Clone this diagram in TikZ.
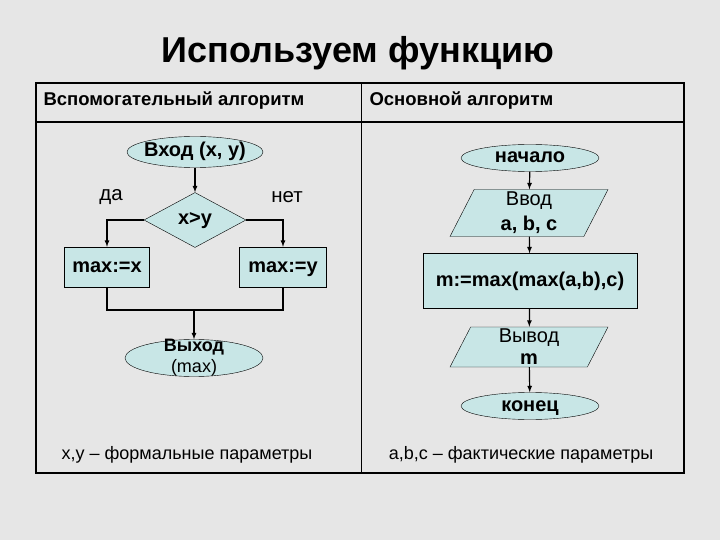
\documentclass[tikz,border=0pt]{standalone}
\usepackage{fontspec}
\setmainfont{Liberation Sans}
\usetikzlibrary{positioning,calc,arrows,shapes.geometric}

\definecolor{boxfill}{RGB}{200,230,230}
\definecolor{slidebg}{RGB}{230,230,230}
\newcommand{\blkfont}{\fontsize{20}{24}\selectfont\bfseries}

\tikzset{
	blk/.style={draw=black, fill=boxfill, font=\blkfont, inner sep=0pt},
	oneline/.style={text height=14pt, text depth=4pt},
	term/.style={blk, oneline, ellipse, inner xsep=-3pt},
	proc/.style={blk, oneline, rectangle},
	decision/.style={blk, oneline, diamond},
	iobox/.style={blk, trapezium, trapezium left angle=60, trapezium right angle=120, trapezium stretches body=true, align=center},
	flow/.style={line width=1.2pt, ->, >=latex},
	lnk/.style={line width=1.2pt},
	plain/.style={font=\fontsize{20.5}{24}\selectfont},
	note/.style={font=\fontsize{18}{22}\selectfont},
	hdr/.style={anchor=west, font=\fontsize{18.5}{22}\selectfont\bfseries}
}

\begin{document}
\begin{tikzpicture}[x=1pt,y=-1pt]
		\fill[slidebg] (0,0) rectangle (720,540);
		
		% title and table
		\node[font=\fontsize{36}{42}\selectfont\bfseries] (title) at (358,53) {Используем функцию};
		\draw[line width=1.8pt] (36,83) rectangle (684,473);
		\draw[line width=1.2pt] (36,122) -- (684,122);
		\draw[line width=0.8pt] (361,83) -- (361,473);
		\node[hdr] (hdrleft) at (40,101) {Вспомогательный алгоритм};
		\node[hdr] (hdrright) at (366,101) {Основной алгоритм};
		
		% auxiliary algorithm
		\node[term, minimum width=136, minimum height=31] (vhod) at (195,152) {Вход (x, y)};
		\node[decision, minimum width=102, minimum height=55] (cmp) at (195,220) {x>y};
		\node[proc, minimum width=85, minimum height=40] (maxx) at (107,267) {max:=x};
		\node[proc, minimum width=87, minimum height=40] (maxy) at (283,267) {max:=y};
		\coordinate (join) at (194,310);
		\node[term, minimum width=138, minimum height=37, label={[align=center, font=\fontsize{18}{21}\selectfont]center:{\textbf{Выход}\\(max)}}] (vyhod) at (194,358) {};
		\node[plain] (yes) at (111,197) {да};
		\node[plain] (no) at (287,197) {нет};
		
		\draw[flow] (vhod) -- (cmp);
		\draw[flow] (cmp.west) -| (maxx.north);
		\draw[flow] (cmp.east) -| (maxy.north);
		\draw[lnk] (maxx.south) |- (join) -| (maxy.south);
		\draw[flow] (join) -- (vyhod.north);
		
		% main algorithm
		\node[term, minimum width=138, minimum height=27] (nach) at (530,158) {начало};
		\node[iobox, minimum width=158, minimum height=47, font=\fontsize{20}{25}\selectfont\bfseries] (vvod) at (529,213) {\mdseries Ввод\\a, b, c};
		\node[proc, minimum width=214, minimum height=55] (calc) at (530,281) {m:=max(max(a,b),c)};
		\node[iobox, minimum width=158, minimum height=40, font=\fontsize{20}{22}\selectfont\bfseries] (vyvod) at (529,347) {\mdseries Вывод\\m};
		\node[term, minimum width=138, minimum height=27] (kon) at (530,406) {конец};
		
		\draw[flow] (nach) -- (vvod);
		\draw[flow] (vvod) -- (calc);
		\draw[flow] (calc) -- (vyvod);
		\draw[flow] (vyvod) -- (kon);
		
		\node[note] (noteleft) at (187,455) {x,y – формальные параметры};
		\node[note] (noteright) at (521,455) {a,b,c – фактические параметры};
		
	\end{tikzpicture}
\end{document}
